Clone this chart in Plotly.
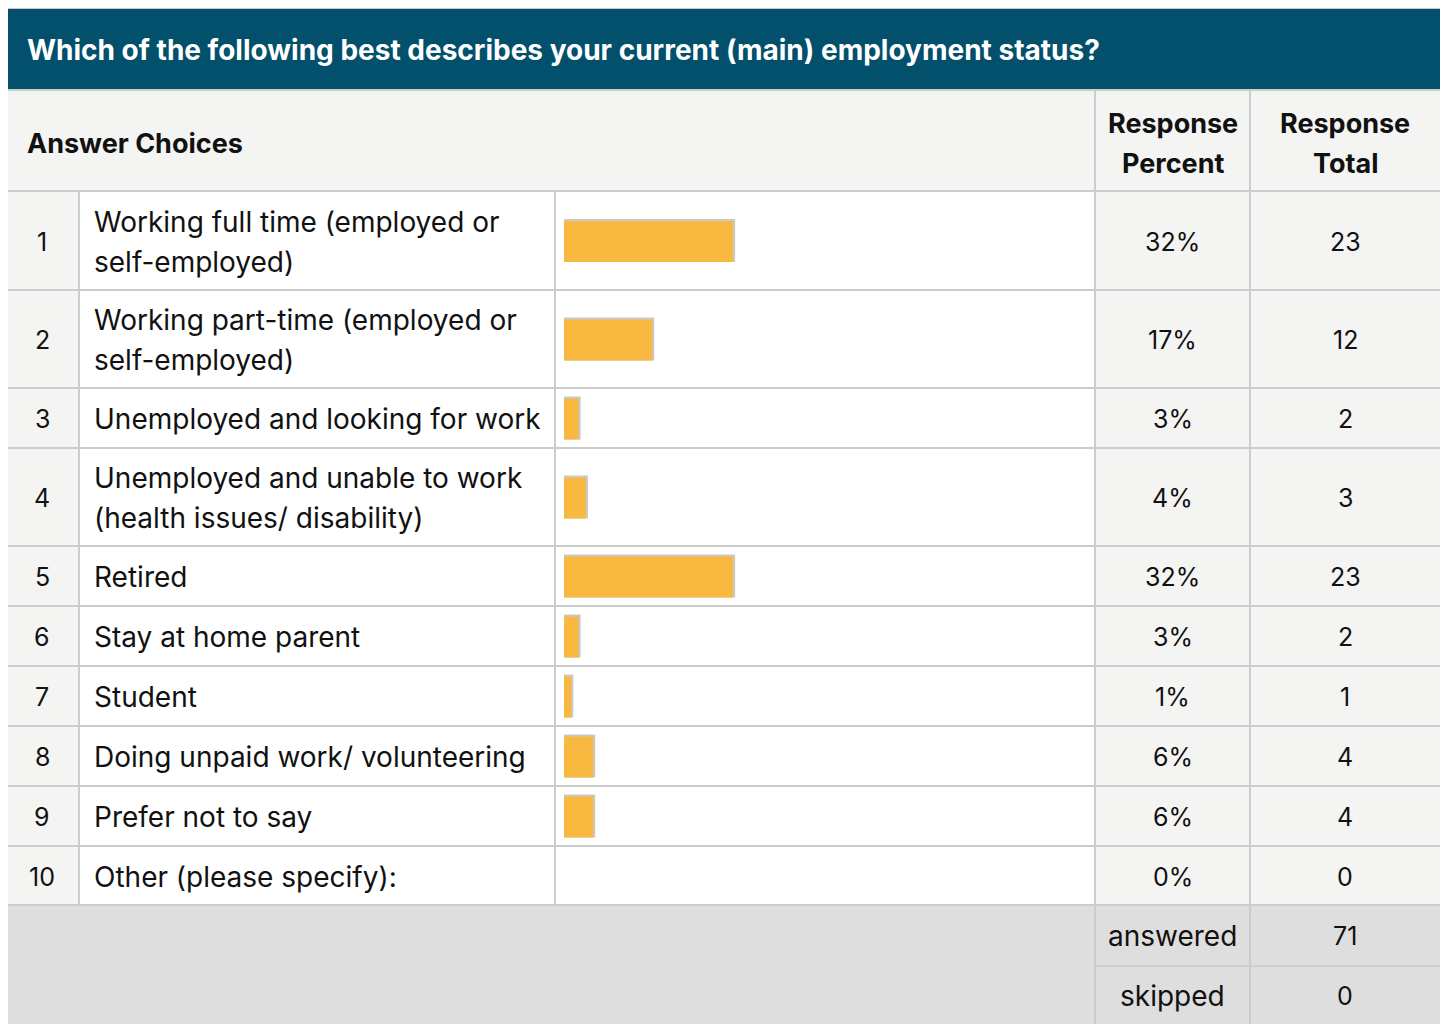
import plotly.graph_objects as go

# ---------------- data ----------------
title_text = "Which of the following best describes your current (main) employment status?"
header_answers = "Answer Choices"
header_percent = ["Response", "Percent"]
header_total = ["Response", "Total"]
row_numbers = [1, 2, 3, 4, 5, 6, 7, 8, 9, 10]
answer_labels = [
    ["Working full time (employed or", "self-employed)"],
    ["Working part-time (employed or", "self-employed)"],
    ["Unemployed and looking for work"],
    ["Unemployed and unable to work", "(health issues/ disability)"],
    ["Retired"],
    ["Stay at home parent"],
    ["Student"],
    ["Doing unpaid work/ volunteering"],
    ["Prefer not to say"],
    ["Other (please specify):"],
]
bar_percent = [32.4, 16.9, 2.8, 4.2, 32.4, 2.8, 1.4, 5.6, 5.6, 0.0]
percent_labels = ["32%", "17%", "3%", "4%", "32%", "3%", "1%", "6%", "6%", "0%"]
response_totals = [23, 12, 2, 3, 23, 2, 1, 4, 4, 0]
footer_labels = ["answered", "skipped"]
footer_values = [71, 0]

# ---------------- layout / style ----------------
W, H = 1448, 1024
PAGE_OFF = 8  # page body margin: figure is drawn 8px in from window corner
LEFT, RIGHT = 8, 1440
X_NUM_R, X_LABEL_R, X_BAR_R, X_PCT_R = 79, 555, 1095, 1250
TITLE_TOP, TITLE_BOT = 9, 89
HEAD_TOP, HEAD_BOT = 91, 191
row_heights = [99, 98, 60, 98, 60, 60, 60, 60, 60, 59]
footer_heights = [61, 60]
BAR_X0 = 564
BAR_PX_PER_PCT = 5.22

TEAL = "#02506B"
ORANGE = "#F9B940"
LIGHT = "#F4F4F2"
FOOT = "#DEDEDE"
LINE = "#CCCCCC"
FONT = "Inter, Lato, sans-serif"
TXT = "#111111"

row_edges = [HEAD_BOT]
for h in row_heights:
    row_edges.append(row_edges[-1] + h)
row_centers = [(row_edges[i] + row_edges[i + 1]) / 2 for i in range(len(row_heights))]
TABLE_BOT = row_edges[-1]
foot_edges = [TABLE_BOT]
for h in footer_heights:
    foot_edges.append(foot_edges[-1] + h)
foot_centers = [(foot_edges[i] + foot_edges[i + 1]) / 2 for i in range(len(footer_heights))]

fig = go.Figure()

# bars: shadow (grey, top+right edge) then orange fill
bar_y = [c + 1 for c in row_centers]
fig.add_trace(go.Bar(
    x=bar_percent, y=bar_y, orientation="h", xaxis="x2", yaxis="y",
    width=39, offset=-20.5,
    marker=dict(color="#C9C9C9",
                line=dict(color="#C9C9C9", width=[4 if v > 0 else 0 for v in bar_percent])),
    hoverinfo="skip", showlegend=False,
))
fig.add_trace(go.Bar(
    x=bar_percent, y=bar_y, orientation="h", xaxis="x2", yaxis="y",
    width=41, offset=-20.5,
    marker=dict(color=ORANGE, line=dict(width=0)),
    customdata=percent_labels,
    hovertemplate="%{customdata}<extra></extra>", showlegend=False,
))

shapes = []
def rect(x0, y0, x1, y1, fill, layer="below"):
    shapes.append(dict(type="rect", xref="x", yref="y", x0=x0, y0=y0, x1=x1, y1=y1,
                       fillcolor=fill, line=dict(width=0), layer=layer))
def hline(y, x0, x1, color=LINE):
    shapes.append(dict(type="line", xref="x", yref="y", x0=x0, x1=x1, y0=y, y1=y,
                       line=dict(color=color, width=2), layer="above"))
def vline(x, y0, y1, color=LINE):
    shapes.append(dict(type="line", xref="x", yref="y", x0=x, x1=x, y0=y0, y1=y1,
                       line=dict(color=color, width=2), layer="above"))

# backgrounds
rect(LEFT, HEAD_TOP, RIGHT, H + 20, "#FFFFFF")
rect(LEFT, TITLE_TOP, RIGHT, TITLE_BOT, TEAL)
rect(LEFT, HEAD_TOP, RIGHT, HEAD_BOT, LIGHT)
rect(LEFT, HEAD_BOT, X_NUM_R, TABLE_BOT, LIGHT)
rect(X_BAR_R, HEAD_BOT, RIGHT, TABLE_BOT, LIGHT)
rect(LEFT, TABLE_BOT, RIGHT, H + 20, FOOT)

# grid lines
hline(90, LEFT, RIGHT)
for e in row_edges:
    hline(e, LEFT - 1, RIGHT + 1)
vline(X_NUM_R, HEAD_BOT, TABLE_BOT)
vline(X_LABEL_R, HEAD_BOT, TABLE_BOT)
vline(X_BAR_R, HEAD_TOP, H + 20)
vline(X_PCT_R, HEAD_TOP, H + 20)
hline(foot_edges[1], X_BAR_R, RIGHT, "#CFCFCF")
# outer border
shapes.append(dict(type="rect", xref="x", yref="y", x0=LEFT - 1, y0=TITLE_TOP - 1,
                   x1=RIGHT + 1, y1=H + 20, line=dict(color=LINE, width=2),
                   fillcolor="rgba(0,0,0,0)", layer="above"))

annotations = []
def text(x, y, s, size=25, bold=False, color=TXT, anchor="left"):
    annotations.append(dict(x=x, y=y, xref="x", yref="y", text=("<b>%s</b>" % s) if bold else s,
                            showarrow=False, xanchor=anchor, yanchor="middle",
                            font=dict(family=FONT, size=size, color=color)))

TEXT_L = 25       # left text position (annotation adds ~3px pad)
LABEL_L = 92
text(TEXT_L, (TITLE_TOP + TITLE_BOT) / 2 + 1, title_text, size=28, bold=True, color="#FFFFFF")
text(TEXT_L, 143, header_answers, size=27, bold=True)
text((X_BAR_R + X_PCT_R) / 2, 123, header_percent[0], size=27, bold=True, anchor="center")
text((X_BAR_R + X_PCT_R) / 2, 163, header_percent[1], size=27, bold=True, anchor="center")
text((X_PCT_R + RIGHT) / 2, 123, header_total[0], size=27, bold=True, anchor="center")
text((X_PCT_R + RIGHT) / 2, 163, header_total[1], size=27, bold=True, anchor="center")

LINE_GAP = 40
for i, yc in enumerate(row_centers):
    text(42, yc + 1, str(row_numbers[i]), size=25, anchor="center")
    lines = answer_labels[i]
    n = len(lines)
    for k, ln in enumerate(lines):
        text(LABEL_L, yc + 1 + (k - (n - 1) / 2) * LINE_GAP, ln, size=28)
    text((X_BAR_R + X_PCT_R) / 2, yc + 1, percent_labels[i], size=25, anchor="center")
    text((X_PCT_R + RIGHT) / 2, yc + 1, str(response_totals[i]), size=25, anchor="center")

for j, yc in enumerate(foot_centers):
    text((X_BAR_R + X_PCT_R) / 2, yc, footer_labels[j], size=28, anchor="center")
    text((X_PCT_R + RIGHT) / 2, yc, str(footer_values[j]), size=25, anchor="center")

fig.update_layout(
    width=W, height=H,
    margin=dict(l=0, r=0, t=0, b=0),
    paper_bgcolor="#FFFFFF", plot_bgcolor="rgba(0,0,0,0)",
    barmode="overlay",
    xaxis=dict(range=[PAGE_OFF, W + PAGE_OFF], domain=[0, 1], visible=False, fixedrange=True),
    xaxis2=dict(range=[0, 100],
                domain=[(BAR_X0 - PAGE_OFF) / W, (BAR_X0 - PAGE_OFF + 100 * BAR_PX_PER_PCT) / W],
                anchor="y", visible=False, fixedrange=True),
    yaxis=dict(range=[H + PAGE_OFF, PAGE_OFF], domain=[0, 1], visible=False, fixedrange=True),
    shapes=shapes, annotations=annotations,
)

fig.write_html("out.html")
